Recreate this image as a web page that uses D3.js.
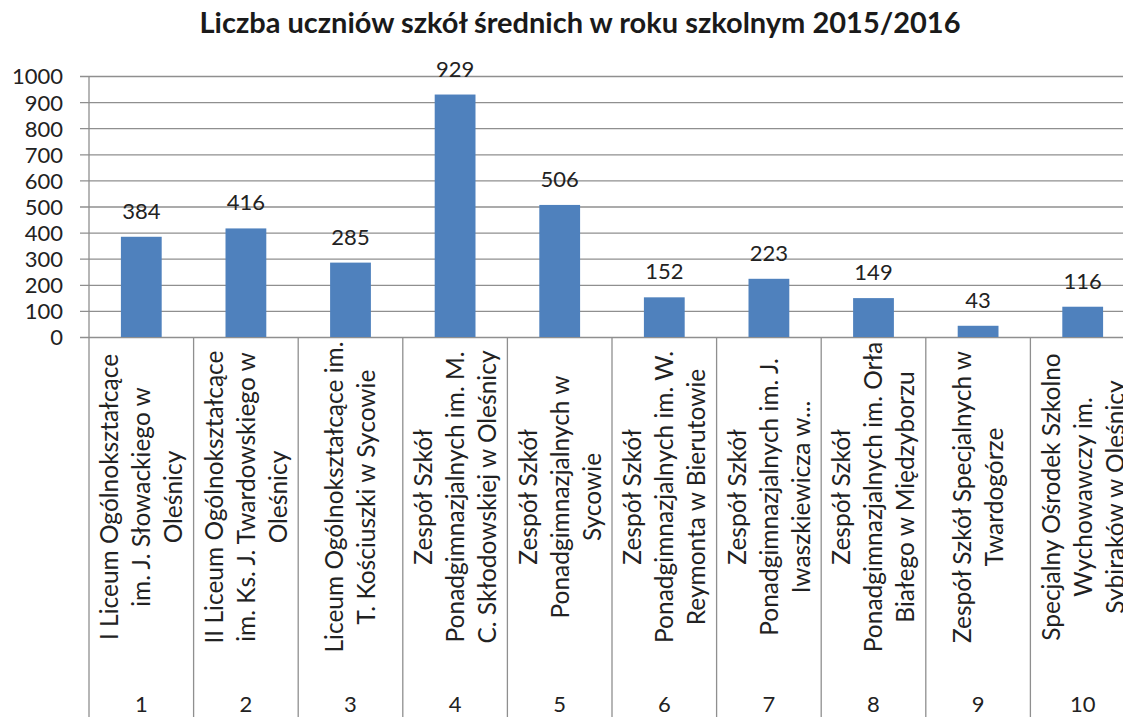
<!DOCTYPE html>
<html lang="pl">
<head>
<meta charset="utf-8">
<title>Liczba uczniów szkół średnich</title>
<script src="https://d3js.org/d3.v7.min.js"></script>
<style>
  body { margin: 0; background: #fff; }
  svg { display: block; font-family: Lato, "Open Sans", sans-serif; }
</style>
</head>
<body>
<div id="chart"></div>
<script>
    // data
    var numbers = ["1", "2", "3", "4", "5", "6", "7", "8", "9", "10"];
    var schools = [
        ["I Liceum Ogólnokształcące", "im. J. Słowackiego w", "Oleśnicy"],
        ["II Liceum Ogólnokształcące", "im. Ks. J. Twardowskiego w", "Oleśnicy"],
        ["Liceum Ogólnokształcące im.", "T. Kościuszki w Sycowie"],
        ["Zespół Szkół", "Ponadgimnazjalnych im. M.", "C. Skłodowskiej w Oleśnicy"],
        ["Zespół Szkół", "Ponadgimnazjalnych w", "Sycowie"],
        ["Zespół Szkół", "Ponadgimnazjalnych im. W.", "Reymonta w Bierutowie"],
        ["Zespół Szkół", "Ponadgimnazjalnych im. J.", "Iwaszkiewicza w..."],
        ["Zespół Szkół", "Ponadgimnazjalnych im. Orła", "Białego w Międzyborzu"],
        ["Zespół Szkół Specjalnych w", "Twardogórze"],
        ["Specjalny Ośrodek Szkolno", "Wychowawczy im.", "Sybiraków w Oleśnicy"]
    ];
    var pupils = [384, 416, 285, 929, 506, 152, 223, 149, 43, 116];
    var yTicks = [0, 100, 200, 300, 400, 500, 600, 700, 800, 900, 1000];

    var title = "Liczba uczniów szkół średnich w roku szkolnym 2015/2016";

    var svgWidth = 1123,
        svgHeight = 717,
        axisX = 89,
        plotTop = 76,
        plotBottom = 337,
        plotRight = axisX + 10 * 104.6,   // runs off the right edge like the original
        lineGap = 32,
        labelMid = 497;

    var svg = d3.select("#chart")
        .append("svg")
        .attr("width", svgWidth)
        .attr("height", svgHeight);

    svg.append("text")
        .attr("x", 580)
        .attr("y", 33)
        .attr("text-anchor", "middle")
        .attr("font-size", 29)
        .attr("font-weight", "bold")
        .attr("fill", "#1a1a1a")
        .text(title);

    var x = d3.scaleBand()
        .domain(numbers)
        .range([axisX, plotRight])
        .padding(0);

    var xBar = d3.scaleBand()
        .domain(numbers)
        .range([axisX, plotRight])
        .paddingInner(0.61)
        .paddingOuter(0.305);

    var y = d3.scaleLinear()
        .domain([0, 1000])
        .range([plotBottom, plotTop]);

    // gridlines + tick labels
    var yAxis = svg.append("g")
        .attr("transform", "translate(80,0)")
        .call(d3.axisLeft(y)
            .tickValues(yTicks)
            .tickSize(-(plotRight - 80))
            .tickPadding(17)
            .tickFormat(d3.format("d")));
    yAxis.select(".domain").remove();
    yAxis.selectAll("line").attr("stroke", "#8f8f8f").attr("stroke-width", 1.3);
    yAxis.selectAll("text")
        .attr("font-size", 22)
        .attr("fill", "#222")
        .attr("dy", "0.36em")
        .attr("font-family", "Lato, sans-serif");

    // bars
    svg.append("g").selectAll("rect")
        .data(pupils)
        .enter()
        .append("rect")
        .attr("x", function(d, i) { return xBar(numbers[i]); })
        .attr("y", function(d) { return y(d); })
        .attr("width", xBar.bandwidth())
        .attr("height", function(d) { return y(0) - y(d); })
        .attr("fill", "#4f81bd");

    // value labels
    svg.append("g").selectAll("text")
        .data(pupils)
        .enter()
        .append("text")
        .attr("x", function(d, i) { return x(numbers[i]) + x.bandwidth() / 2; })
        .attr("y", function(d) { return y(d) - 18; })
        .attr("text-anchor", "middle")
        .attr("font-size", 22)
        .attr("fill", "#222")
        .text(function(d) { return d; });

    // y axis line and category separators
    var seps = numbers.map(function(n) { return x(n); }).concat([plotRight]);
    svg.append("g").selectAll("line")
        .data(seps)
        .enter()
        .append("line")
        .attr("x1", function(d) { return d; })
        .attr("x2", function(d) { return d; })
        .attr("y1", function(d, i) { return i === 0 ? plotTop : plotBottom; })
        .attr("y2", svgHeight)
        .attr("stroke", "#8f8f8f")
        .attr("stroke-width", 1.3);

    // rotated school names
    var names = svg.append("g").selectAll("text")
        .data(schools)
        .enter()
        .append("text")
        .attr("transform", function(d, i) {
            return "translate(" + (x(numbers[i]) + x.bandwidth() / 2) + "," + labelMid + ") rotate(-90)";
        })
        .attr("text-anchor", "middle")
        .attr("font-size", 24.5)
        .attr("fill", "#222");

    names.selectAll("tspan")
        .data(function(d) { return d; })
        .enter()
        .append("tspan")
        .attr("x", 0)
        .attr("y", function(d, i, nodes) {
            return (i - (nodes.length - 1) / 2) * lineGap;
        })
        .attr("dy", "0.36em")
        .text(function(d) { return d; });

    // numbers row
    svg.append("g").selectAll("text")
        .data(numbers)
        .enter()
        .append("text")
        .attr("x", function(d) { return x(d) + x.bandwidth() / 2; })
        .attr("y", 712)
        .attr("text-anchor", "middle")
        .attr("font-size", 22)
        .attr("fill", "#222")
        .text(function(d) { return d; });
</script>
</body>
</html>
